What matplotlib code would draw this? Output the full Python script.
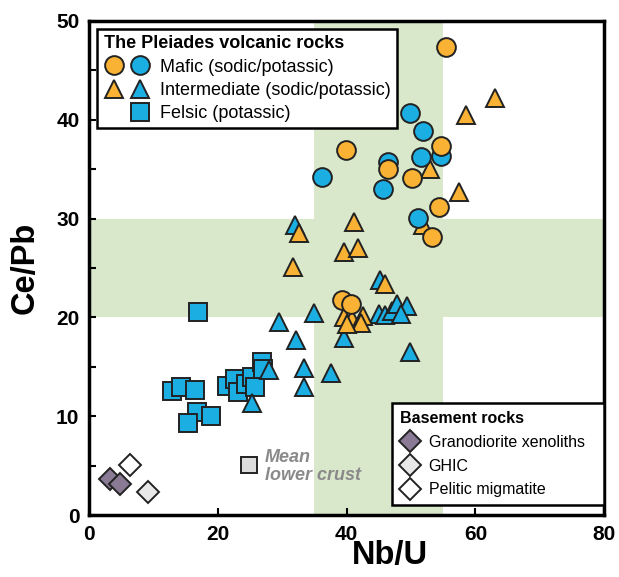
import matplotlib.pyplot as plt
from matplotlib.lines import Line2D
from matplotlib.legend_handler import HandlerTuple

plt.rcParams['font.family'] = ['Liberation Sans', 'DejaVu Sans']

# Mafic, sodic (orange circles)
mafic_na_x = [55.5, 39.9, 46.5, 54.7, 50.1, 54.4, 53.2, 39.3, 40.6]
mafic_na_y = [47.3, 36.9, 35.0, 37.3, 34.1, 31.2, 28.1, 21.8, 21.4]
# Mafic, potassic (blue circles)
mafic_k_x = [49.9, 51.8, 36.2, 46.5, 51.6, 54.7, 45.6, 51.1]
mafic_k_y = [40.7, 38.9, 34.2, 35.7, 36.2, 36.3, 33.0, 30.1]
# Intermediate, sodic (orange triangles)
inter_na_x = [63.0, 58.5, 57.4, 53.0, 51.9, 32.6, 41.2, 39.6, 41.7, 31.7, 46.0,
              39.6, 40.9, 42.6, 42.3, 40.0]
inter_na_y = [42.2, 40.5, 32.7, 35.0, 29.3, 28.5, 29.7, 26.6, 27.0, 25.1, 23.4,
              20.0, 19.8, 20.1, 19.4, 19.3]
# Intermediate, potassic (blue triangles)
inter_k_x = [32.0, 45.2, 35.0, 29.5, 32.1, 39.6, 45.1, 45.9, 47.1, 47.9, 49.3,
             48.5, 49.8, 33.4, 33.4, 37.6, 27.9, 25.3]
inter_k_y = [29.3, 23.8, 20.5, 19.5, 17.7, 17.9, 20.4, 20.2, 20.7, 21.4, 21.2,
             20.4, 16.5, 14.9, 13.0, 14.4, 14.7, 11.4]
# Felsic, potassic (blue squares)
felsic_x = [16.9, 12.9, 14.3, 16.5, 16.7, 15.4, 18.9, 21.4, 22.6, 23.2, 24.3,
            25.3, 25.7, 26.8, 27.0]
felsic_y = [20.6, 12.6, 13.0, 12.7, 10.4, 9.3, 10.0, 13.1, 13.8, 12.5, 13.3,
            14.0, 13.0, 15.5, 14.8]
# Basement rocks
grano_x = [3.3, 4.8]
grano_y = [3.7, 3.2]
ghic_x = [9.2]
ghic_y = [2.4]
pelitic_x = [6.4]
pelitic_y = [5.1]
# Mean lower crust
mlc_x = [24.8]
mlc_y = [5.1]

orange = '#F9B233'
blue = '#1BAEE3'
green = '#D9E8CB'

fig = plt.figure(figsize=(6.19, 5.77), dpi=100)
ax = fig.add_axes([0.144, 0.107, 0.832, 0.857])

# reference fields
ax.axvspan(35, 55, color=green, lw=0, zorder=0)
ax.axhspan(20, 30, color=green, lw=0, zorder=0)

mk = dict(linestyle='none', markeredgecolor='#222222', markeredgewidth=1.4)
ax.plot(grano_x, grano_y, 'D', color='#8A7A96', markersize=11, **mk)
ax.plot(ghic_x, ghic_y, 'D', color='#E8E8E8', markersize=11, **mk)
ax.plot(pelitic_x, pelitic_y, 'D', color='white', markersize=11, **mk)
ax.plot(mlc_x, mlc_y, 's', color='#DDDDDD', markersize=11, **mk)
ax.plot(felsic_x, felsic_y, 's', color=blue, markersize=12.5, **mk)
ax.plot(inter_k_x, inter_k_y, '^', color=blue, markersize=13.5, **mk)
ax.plot(inter_na_x, inter_na_y, '^', color=orange, markersize=13.5, **mk)
ax.plot(mafic_k_x, mafic_k_y, 'o', color=blue, markersize=13.5, **mk)
ax.plot(mafic_na_x, mafic_na_y, 'o', color=orange, markersize=13.5, **mk)

ax.text(27.3, 4.9, 'Mean\nlower crust', color='#8A8A8A', fontsize=13,
        fontweight='bold', fontstyle='italic', va='center', ha='left',
        linespacing=1.05)

ax.set_xlim(0, 80)
ax.set_ylim(0, 50)
ax.set_xticks([0, 20, 40, 60, 80])
ax.set_yticks([0, 10, 20, 30, 40, 50])
ax.set_yticks([5, 15, 25, 35, 45], minor=True)
ax.tick_params(direction='in', length=5, width=1.5, labelsize=15, pad=7)
ax.tick_params(which='minor', direction='in', length=5, width=1.5)
for lab in ax.get_xticklabels() + ax.get_yticklabels():
    lab.set_fontweight('bold')
for sp in ax.spines.values():
    sp.set_linewidth(2.5)
ax.set_xlabel('Nb/U', fontsize=23.5, fontweight='bold')
ax.xaxis.set_label_coords(0.585, -0.05, transform=ax.transAxes)
ax.set_ylabel('Ce/Pb', fontsize=23.5, fontweight='bold')
ax.yaxis.set_label_coords(-0.095, 0.5, transform=ax.transAxes)

# legend: volcanic rocks
blank = Line2D([], [], linestyle='none')
h_mafic = (Line2D([], [], marker='o', color=orange, markersize=13.5, **mk),
           Line2D([], [], marker='o', color=blue, markersize=13.5, **mk))
h_inter = (Line2D([], [], marker='^', color=orange, markersize=13.5, **mk),
           Line2D([], [], marker='^', color=blue, markersize=13.5, **mk))
h_felsic = (blank, Line2D([], [], marker='s', color=blue, markersize=12.5, **mk))
leg1 = ax.legend([h_mafic, h_inter, h_felsic],
                 ['Mafic (sodic/potassic)', 'Intermediate (sodic/potassic)',
                  'Felsic (potassic)'],
                 handler_map={tuple: HandlerTuple(ndivide=None, pad=0.25)},
                 loc='upper left', fontsize=13, title='The Pleiades volcanic rocks',
                 title_fontproperties={'weight': 'bold', 'size': 13},
                 alignment='left', handlelength=2.6, handletextpad=0.5,
                 labelspacing=0.35, framealpha=1, fancybox=False,
                 edgecolor='black', borderpad=0.35, borderaxespad=0.45)
leg1.get_frame().set_linewidth(1.8)
ax.add_artist(leg1)

# legend: basement rocks
h_g = Line2D([], [], marker='D', color='#8A7A96', markersize=11, **mk)
h_h = Line2D([], [], marker='D', color='#E8E8E8', markersize=11, **mk)
h_p = Line2D([], [], marker='D', color='white', markersize=11, **mk)
leg2 = ax.legend([h_g, h_h, h_p],
                 ['Granodiorite xenoliths', 'GHIC', 'Pelitic migmatite'],
                 loc='lower left', bbox_to_anchor=(0.588, 0.02, 0.412, 0.2),
                 mode='expand', borderaxespad=0,
                 fontsize=11.5, title='Basement rocks',
                 title_fontproperties={'weight': 'bold', 'size': 11.5},
                 alignment='left', handlelength=1.3, handletextpad=0.5,
                 labelspacing=0.55, framealpha=1, fancybox=False,
                 edgecolor='black', borderpad=0.5)
leg2.get_frame().set_linewidth(1.8)

fig.savefig('out.png', dpi=100)
